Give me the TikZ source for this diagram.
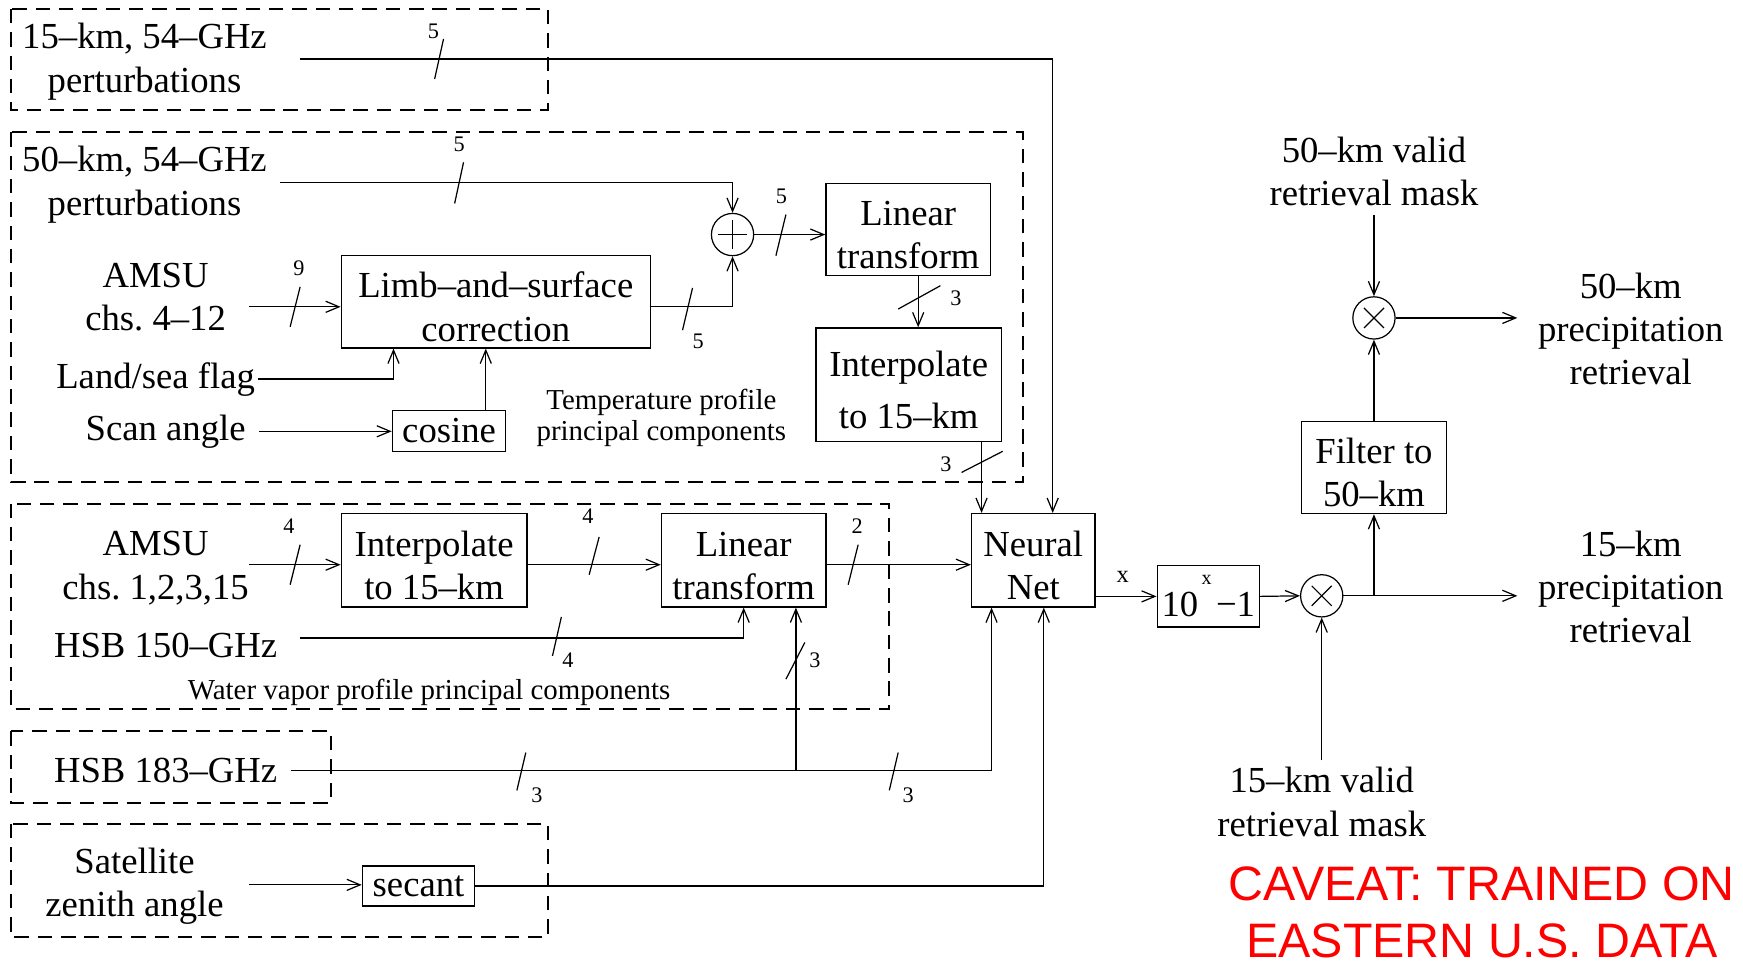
\documentclass[tikz,border=0pt]{standalone}
\usepackage{fontspec}
\setmainfont{Liberation Serif}
\newfontfamily\arialf{Liberation Sans}
\usetikzlibrary{arrows.meta}
\definecolor{cavred}{RGB}{255,0,0}
\newcommand{\bst}{\rule{0pt}{32pt}}
\frenchspacing
\begin{document}
\begin{tikzpicture}[x=1pt,y=-1pt,
  txt/.style={align=center, font=\fontsize{33}{39}\selectfont, inner sep=0pt},
  blk/.style={draw, line width=1.2pt, align=center, font=\fontsize{33}{39}\selectfont, inner sep=0pt},
  small/.style={font=\fontsize{26}{28}\selectfont, align=center, inner sep=0pt},
  num/.style={font=\fontsize{20}{22}\selectfont, inner sep=0pt},
  grp/.style={line width=1.8pt, dash pattern=on 13pt off 8pt},
  ln/.style={line width=1.1pt},
  arr/.style={line width=1.1pt, -{Straight Barb[length=12pt,width=10pt,line width=1.1pt]}},
  circ/.style={draw, circle, line width=1.1pt, minimum size=38pt, inner sep=0pt}
]
\useasboundingbox (0,0) rectangle (1568,871);

% group frames
\draw[grp] (10,8) rectangle (493,99);
\draw[grp] (10,119) rectangle (920,434);
\draw[grp] (10,453) rectangle (800,638);
\draw[grp] (10,658) rectangle (298,722);
\draw[grp] (10,741) rectangle (493,843);

% text inputs
\node[txt] (p15) at (130,55.5) {15–km, 54–GHz\\perturbations};
\node[txt] (p50) at (130,166) {50–km, 54–GHz\\perturbations};
\node[txt] (amsuA) at (140,267.5) {AMSU\\chs. 4–12};
\node[txt] (land) at (140,341) {Land/sea flag};
\node[txt] (scan) at (149,388) {Scan angle};
\node[small] (tlab) at (595,376) {Temperature profile\\principal components};
\node[txt] (amsuB) at (140,511) {AMSU\\chs. 1,2,3,15};
\node[txt] (hsb150) at (149,581) {HSB 150–GHz};
\node[small] (wlab) at (386,623) {Water vapor profile principal components};
\node[txt] (hsb183) at (149,693) {HSB 183–GHz};
\node[txt] (sat) at (121,797) {Satellite\\zenith angle};

% blocks
\node[blk, minimum width=278pt, minimum height=83pt] (limb) at (446,271.5) {\bst Limb–and–surface\\correction};
\node[blk, minimum width=102pt, minimum height=37pt] (cos) at (404,387.5) {cosine};
\node[circ] (sum) at (659,211) {};
\node[blk, minimum width=148pt, minimum height=83pt] (linT) at (817,206.5) {\bst Linear\\transform};
\node[blk, minimum width=167pt, minimum height=102pt] (interT) at (817.5,346) {\bst Interpolate\\[8pt]to 15–km};
\node[blk, minimum width=167pt, minimum height=84pt] (interW) at (390.5,504) {\bst Interpolate\\to 15–km};
\node[blk, minimum width=148pt, minimum height=84pt] (linW) at (669,504) {\bst Linear\\transform};
\node[blk, minimum width=101pt, minimum height=36pt] (sec) at (376.5,797) {secant};
\node[blk, minimum width=111pt, minimum height=84pt] (nn) at (929.5,504) {\bst Neural\\Net};
\node[blk, minimum width=92pt, minimum height=55pt] (exp) at (1087,536.5) {10\hspace{3pt}\raisebox{29pt}{\fontsize{18}{18}\selectfont x}\hspace{4pt}−1};
\node[circ] (mulA) at (1189,536) {};
\node[blk, minimum width=130pt, minimum height=83pt] (filt) at (1236,420.5) {\bst Filter to\\50–km};
\node[circ] (mulB) at (1236,286) {};

% right side texts
\node[txt] (m50) at (1236,154) {50–km valid\\retrieval mask};
\node[txt] (o50) at (1467,296) {50–km\\precipitation\\retrieval};
\node[txt] (o15) at (1467,528) {15–km\\precipitation\\retrieval};
\node[txt] (m15) at (1189,721.5) {15–km valid\\retrieval mask};
\node[align=center, inner sep=0pt, text=cavred, font=\arialf\fontsize{43.5}{51}\selectfont] (cav) at (1333,821) {CAVEAT: TRAINED ON\\EASTERN U.S. DATA};

% symbols in circles
\draw[ln] ([shift={(-13,0)}]sum.center) -- ([shift={(13,0)}]sum.center);
\draw[ln] ([shift={(0,-13)}]sum.center) -- ([shift={(0,13)}]sum.center);
\draw[ln] ([shift={(-9,-9)}]mulA.center) -- ([shift={(9,9)}]mulA.center);
\draw[ln] ([shift={(-9,9)}]mulA.center) -- ([shift={(9,-9)}]mulA.center);
\draw[ln] ([shift={(-9,-9)}]mulB.center) -- ([shift={(9,9)}]mulB.center);
\draw[ln] ([shift={(-9,9)}]mulB.center) -- ([shift={(9,-9)}]mulB.center);

% connector start points
\coordinate (c15) at (270,53);
\coordinate (c50) at (252,164);
\coordinate (cA) at (224,276);
\coordinate (cL) at (232,341);
\coordinate (cS) at (233,388);
\coordinate (cB) at (224,508);
\coordinate (cH) at (270,574);
\coordinate (cH3) at (262,693);
\coordinate (br) at (716,693);
\coordinate (cZ) at (224,796);
\coordinate (out15) at (1365,536);
\coordinate (br2) at (1236,536);
\coordinate (cm15) at (1189,684);
\coordinate (cm50) at (1236,193);
\coordinate (out50) at (1365,286);

% connectors
\draw[arr] (c15) -| ([xshift=17.5pt]nn.north);
\draw[arr] (c50) -| (sum.north);
\draw[arr] (cA) -- (cA -| limb.west);
\draw[arr] (limb.east |- cA) -| (sum.south);
\draw[arr] (sum.east) -- (sum.east -| linT.west);
\draw[arr] ([xshift=9pt]linT.south) -- ([xshift=9pt]linT.south |- interT.north);
\draw[arr] ([xshift=65.5pt]interT.south) -- ([xshift=65.5pt]interT.south |- nn.north);
\draw[arr] (cL) -| ([xshift=-92pt]limb.south);
\draw[arr] (cS) -- (cS -| cos.west);
\draw[arr] ([xshift=33pt]cos.north) -- ([xshift=33pt]cos.north |- limb.south);
\draw[arr] (cB) -- (cB -| interW.west);
\draw[arr] (interW.east |- cB) -- (linW.west |- cB);
\draw[arr] (linW.east |- cB) -- (nn.west |- cB);
\draw[arr] (cH) -| (linW.south);
\draw[arr] (cH3) -| ([xshift=-37.5pt]nn.south);
\draw[arr] (br) -- (br |- linW.south);
\draw[arr] (cZ) -- (cZ -| sec.west);
\draw[arr] (sec.east) -| ([xshift=9.5pt]nn.south);
\draw[arr] (nn.east |- exp.west) -- (exp.west);
\draw[arr] (exp.east) -- (mulA.west);
\draw[arr] (mulA.east) -- (out15);
\draw[arr] (br2) -- (filt.south);
\draw[arr] (cm15) -- (mulA.south);
\draw[arr] (filt.north) -- (mulB.south);
\draw[arr] (cm50) -- (mulB.north);
\draw[arr] (mulB.east) -- (out50);

% bus-width slashes and counts
\draw[ln] (391,71) -- (399,35);  \node[num] (n1) at (390,28) {5};
\draw[ln] (409,183) -- (417,146); \node[num] (n2) at (413,130) {5};
\draw[ln] (698,230) -- (707,193); \node[num] (n3) at (703,177) {5};
\draw[ln] (614,297) -- (623,259); \node[num] (n4) at (628,307) {5};
\draw[ln] (261,294) -- (270,258); \node[num] (n5) at (269,241) {9};
\draw[ln] (808,278) -- (846,257); \node[num] (n6) at (860,268) {3};
\draw[ln] (865,425) -- (902,406); \node[num] (n7) at (851,418) {3};
\draw[ln] (261,526) -- (270,490); \node[num] (n8) at (260,473) {4};
\draw[ln] (530,517) -- (539,483); \node[num] (n9) at (529,464) {4};
\draw[ln] (763,526) -- (772,490); \node[num] (n10) at (771,473) {2};
\draw[ln] (497,590) -- (505,555); \node[num] (n11) at (511,594) {4};
\draw[ln] (707,611) -- (724,578); \node[num] (n12) at (733,594) {3};
\draw[ln] (465,711) -- (473,677); \node[num] (n13) at (483,715) {3};
\draw[ln] (800,711) -- (808,677); \node[num] (n14) at (817,715) {3};

\node[font=\fontsize{22}{22}\selectfont, inner sep=0pt] (xl) at (1010,519) {x};
\end{tikzpicture}
\end{document}
